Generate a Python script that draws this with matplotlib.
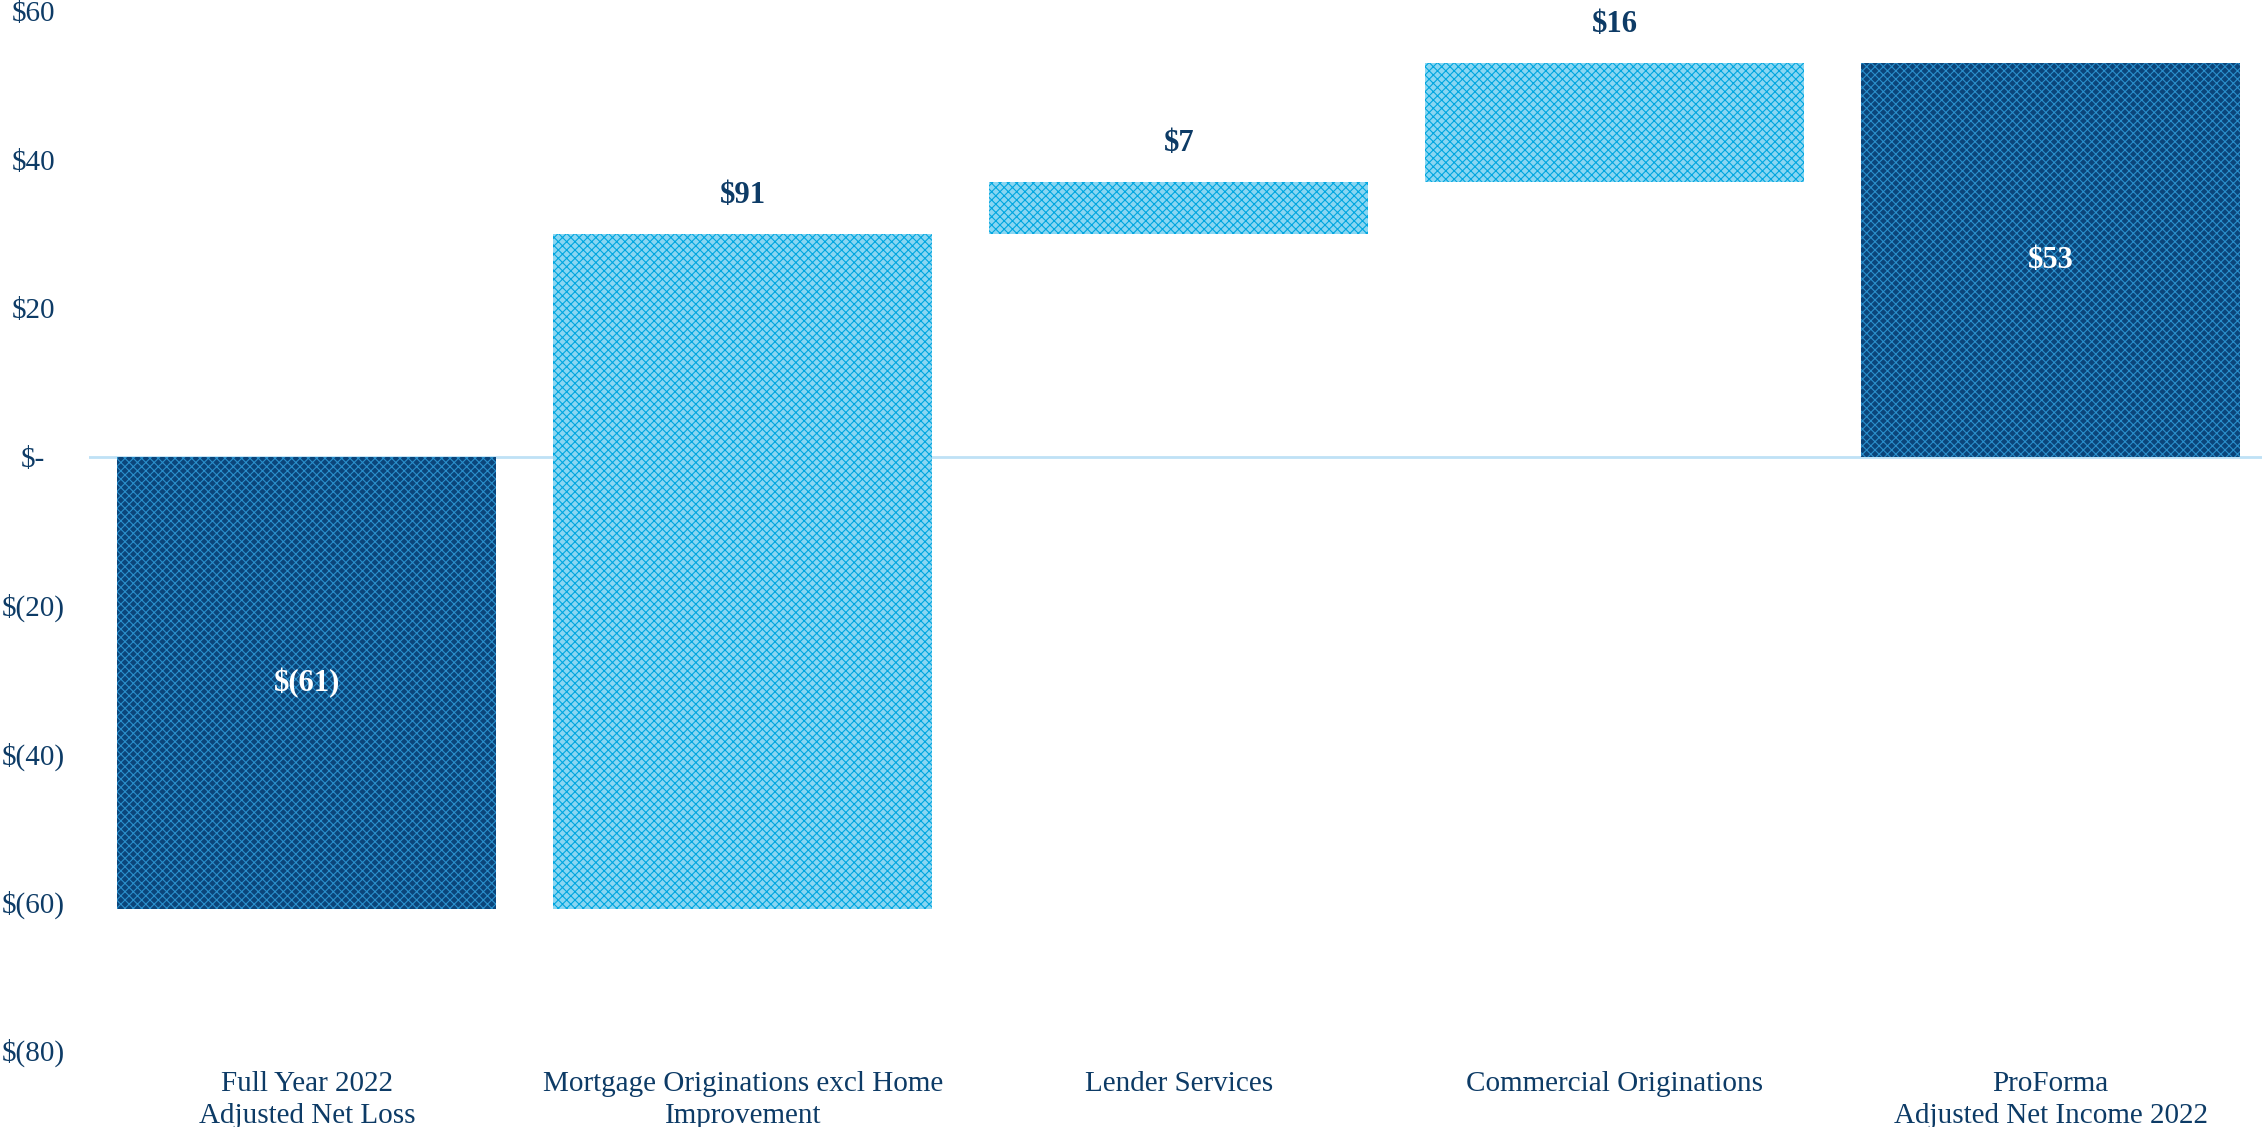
import matplotlib.pyplot as plt
import numpy as np

plt.rcParams['font.family'] = ['Liberation Serif', 'DejaVu Serif']
plt.rcParams['hatch.linewidth'] = 0.8

categories = ['Full Year 2022\nAdjusted Net Loss',
              'Mortgage Originations excl Home\nImprovement',
              'Lender Services',
              'Commercial Originations',
              'ProForma\nAdjusted Net Income 2022']
values = [-61, 91, 7, 16, 53]
value_labels = ['$(61)', '$91', '$7', '$16', '$53']
is_total = [True, False, False, False, True]
yticks = [60, 40, 20, 0, -20, -40, -60, -80]
ytick_labels = ['$60', '$40', '$20', '$-', '$(20)', '$(40)', '$(60)', '$(80)']

navy = '#0d3b66'
total_face, total_hatch = '#0b457a', '#2a8fcb'
step_face, step_hatch = '#8ad6f2', '#00a6e0'

# waterfall: totals start at zero, steps start where the previous bar ended
bottoms = []
running = 0
for v, tot in zip(values, is_total):
    if tot:
        bottoms.append(0)
        running = v
    else:
        bottoms.append(running)
        running += v

fig = plt.figure(figsize=(22.62, 11.27), dpi=100)
ax = fig.add_axes([0.0393, 0.0683, 0.9607, 0.9215])

x = np.arange(len(categories))
for i in range(len(categories)):
    face = total_face if is_total[i] else step_face
    hatch_c = total_hatch if is_total[i] else step_hatch
    ax.bar(x[i], values[i], bottom=bottoms[i], width=0.87, color=face,
           edgecolor=hatch_c, linewidth=0, hatch='xxxx', zorder=2)
    if is_total[i]:
        ax.text(x[i], bottoms[i] + values[i] / 2, value_labels[i], ha='center',
                va='center', color='white', fontsize=22, fontweight='bold', zorder=3)
    else:
        ax.text(x[i], bottoms[i] + values[i] + 5.2, value_labels[i], ha='center',
                va='center', color=navy, fontsize=22, fontweight='bold', zorder=3)

ax.axhline(0, color='#bfe1f6', linewidth=2, zorder=1)

ax.set_xlim(-0.5, 4.485)
ax.set_ylim(-80, 60)
ax.set_yticks(yticks)
ax.set_yticklabels(ytick_labels, fontsize=21, color=navy)
for lab in ax.get_yticklabels():
    lab.set_horizontalalignment('center')
ax.tick_params(axis='y', length=0, pad=40)
ax.set_xticks(x)
ax.set_xticklabels(categories, fontsize=21, color=navy, linespacing=1.3)
ax.tick_params(axis='x', length=0, pad=15)
for s in ax.spines.values():
    s.set_visible(False)

fig.savefig('out.png', dpi=100)
